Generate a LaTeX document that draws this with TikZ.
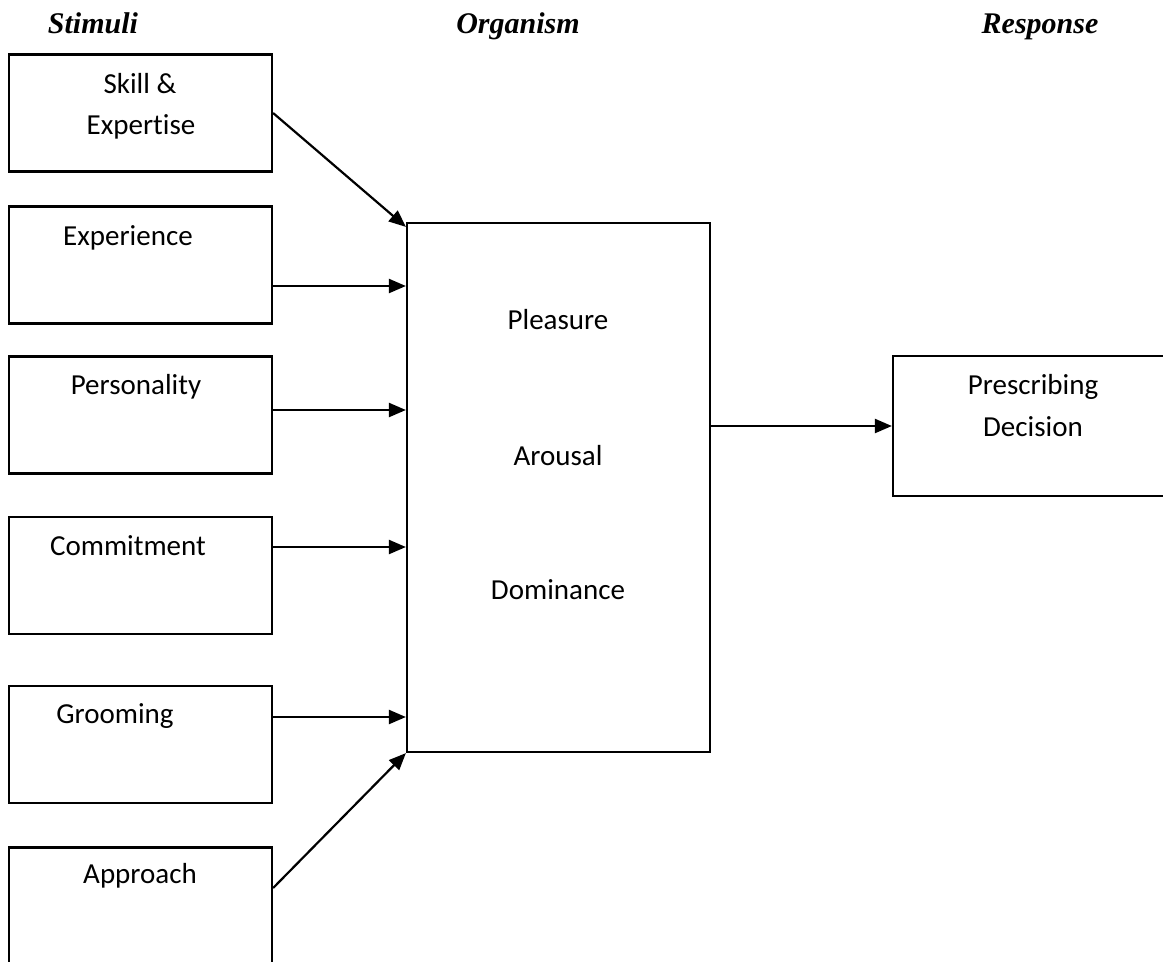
\documentclass[tikz,border=0pt]{standalone}
\usepackage{fontspec}
\setmainfont{Carlito}[Ligatures=CommonOff]
\newfontfamily\headfont{Liberation Serif}
\usetikzlibrary{arrows.meta,positioning,calc}
\begin{document}
\begin{tikzpicture}[x=1pt,y=-1pt,
  box/.style={draw=black,line width=2.2pt,minimum width=263pt,minimum height=117pt,inner sep=0pt},
  lbl/.style={anchor=base,inner sep=0pt,font=\fontsize{29}{34}\selectfont},
  head/.style={anchor=base,inner sep=0pt,font=\fontsize{30}{34}\selectfont\headfont\bfseries\itshape},
  arr/.style={line width=2.2pt,-{Triangle[length=17pt,width=14pt]}}]
\clip (0,0) rectangle (1163,962);
\fill[white] (0,0) rectangle (1163,962);
% headings
\node[head] (hs) at (93,33) {Stimuli};
\node[head] (ho) at (518,33) {Organism};
\node[head] (hr) at (1040,33) {Response};
% stimulus boxes
\node[box] (b1) at (140.5,113) {};
\node[box] (b2) at (140.5,265) {};
\node[box] (b3) at (140.5,415) {};
\node[box] (b4) at (140.5,575.5) {};
\node[box] (b5) at (140.5,744.5) {};
\node[box] (b6) at (140.5,906) {};
\node[lbl] (t1a) at (140,93) {Skill \&};
\node[lbl] (t1b) at (141,134) {Expertise};
\node[lbl] (t2) at (128,245) {Experience};
\node[lbl] (t3) at (136,394) {Personality};
\node[lbl] (t4) at (128,555) {Commitment};
\node[lbl] (t5) at (115,723) {Grooming};
\node[lbl] (t6) at (140,883) {Approach};
% organism
\node[draw=black,line width=2.2pt,minimum width=303pt,minimum height=529pt,inner sep=0pt] (org) at (558.5,487.5) {};
\node[lbl] (p) at (558,329) {Pleasure};
\node[lbl] (a) at (558,465) {Arousal};
\node[lbl] (d) at (558,599) {Dominance};
% response
\node[draw=black,line width=2.2pt,minimum width=282pt,minimum height=140pt,inner sep=0pt] (resp) at (1034,426) {};
\node[lbl] (r1) at (1033,394) {Prescribing};
\node[lbl] (r2) at (1033,436) {Decision};
% connectors
\draw[arr] (b1.east) -- ($(org.north west)+(0,5)$);
\draw[arr] (b2.east |- 0,286) -- (org.west |- 0,286);
\draw[arr] (b3.east |- 0,410) -- (org.west |- 0,410);
\draw[arr] (b4.east |- 0,547) -- (org.west |- 0,547);
\draw[arr] (b5.east |- 0,717) -- (org.west |- 0,717);
\draw[arr] (b6.east |- 0,888) -- (org.south west);
\draw[arr] (org.east |- resp.west) -- (resp.west);
\end{tikzpicture}
\end{document}
